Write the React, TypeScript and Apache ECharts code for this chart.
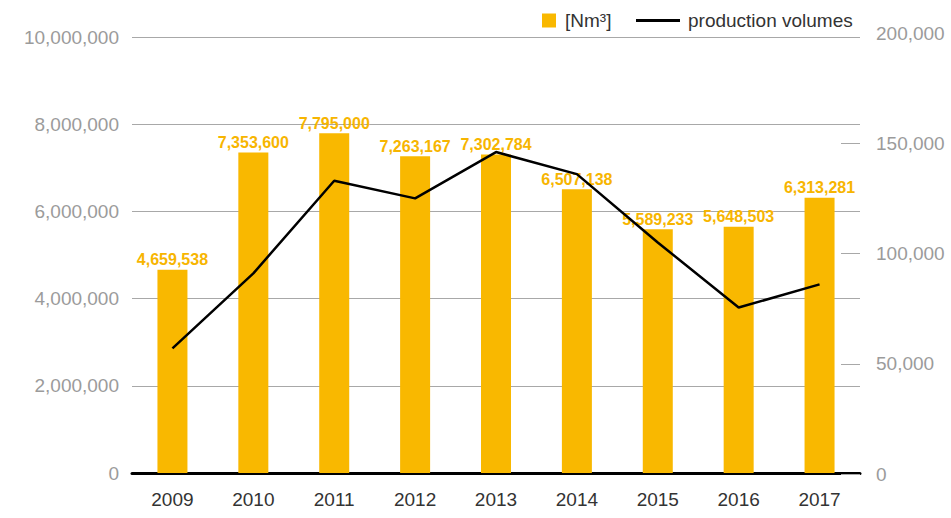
import React, { useEffect, useRef } from "react";
import * as echarts from "echarts";

const years = ["2009", "2010", "2011", "2012", "2013", "2014", "2015", "2016", "2017"];
const gasVolumes = [4659538, 7353600, 7795000, 7263167, 7302784, 6507138, 5589233, 5648503, 6313281];
const productionVolumes = [57000, 91000, 133000, 125000, 146000, 136000, 105000, 75500, 86000];
const rightTickValues = [0, 50000, 100000, 150000];
const barName = "[Nm³]";
const lineName = "production volumes";

const FONT = "'Liberation Sans', Arial, Helvetica, sans-serif";
const BAR_COLOR = "#F9B800";
const GRAY = "#9b9b9b";

const fmt = (v: number) => v.toLocaleString("en-US");

export default function App() {
  const ref = useRef<HTMLDivElement>(null);
  useEffect(() => {
    if (!ref.current) return;
    const chart = echarts.init(ref.current, undefined, { renderer: "svg" });
    chart.setOption({
      animation: false,
      textStyle: { fontFamily: FONT },
      legend: [
        {
          data: [barName],
          left: 542,
          top: 11,
          padding: 0,
          itemWidth: 14,
          itemHeight: 14,
          icon: "rect",
          textStyle: { fontFamily: FONT, fontSize: 19, color: "#333", padding: [0, 0, 0, 4] },
        },
        {
          data: [lineName],
          left: 636,
          top: 11,
          padding: 0,
          itemWidth: 44,
          itemHeight: 3,
          icon: "rect",
          textStyle: { fontFamily: FONT, fontSize: 19, color: "#333", padding: [0, 0, 0, 3] },
        },
      ],
      grid: [
        { left: 132, right: 91, top: 37, bottom: 45 },
        { left: 132, right: 91, top: 33, bottom: 44 },
      ],
      xAxis: [
        {
          type: "category",
          gridIndex: 0,
          data: years,
          axisLine: { show: true, lineStyle: { color: "#000", width: 3 } },
          axisTick: { show: false },
          axisLabel: { color: "#333", fontSize: 19, fontFamily: FONT, margin: 17 },
        },
        {
          type: "category",
          gridIndex: 1,
          data: years,
          show: false,
        },
      ],
      yAxis: [
        {
          type: "value",
          gridIndex: 0,
          min: 0,
          max: 10000000,
          interval: 2000000,
          axisLine: { show: false },
          axisTick: { show: false },
          splitLine: { lineStyle: { color: "#a8a8a8", width: 1 } },
          axisLabel: { color: GRAY, fontSize: 19, fontFamily: FONT, margin: 13, formatter: (v: number) => fmt(v) },
        },
        {
          type: "value",
          gridIndex: 1,
          position: "right",
          min: 0,
          max: 200000,
          interval: 50000,
          axisLine: { show: false },
          axisTick: {
            show: true,
            inside: true,
            length: 19,
            customValues: rightTickValues,
            lineStyle: { color: "#a8a8a8", width: 1 },
          },
          splitLine: { show: false },
          axisLabel: { color: GRAY, fontSize: 19, fontFamily: FONT, margin: 16, formatter: (v: number) => fmt(v) },
        },
      ],
      series: [
        {
          name: barName,
          type: "bar",
          xAxisIndex: 0,
          yAxisIndex: 0,
          data: gasVolumes,
          barWidth: 30,
          itemStyle: { color: BAR_COLOR },
          label: {
            show: true,
            position: "top",
            distance: 2,
            color: "#F7B500",
            fontWeight: "bold",
            fontSize: 16,
            fontFamily: FONT,
            formatter: (p: any) => fmt(p.value),
          },
          z: 2,
        },
        {
          name: lineName,
          type: "line",
          xAxisIndex: 1,
          yAxisIndex: 1,
          data: productionVolumes,
          symbol: "none",
          color: "#000",
          lineStyle: { color: "#000", width: 2.5 },
          z: 3,
        },
      ],
    });
    return () => chart.dispose();
  }, []);
  return (
    <div
      ref={ref}
      style={{ position: "fixed", left: 0, top: 0, width: 951, height: 518, background: "#fff" }}
    />
  );
}
